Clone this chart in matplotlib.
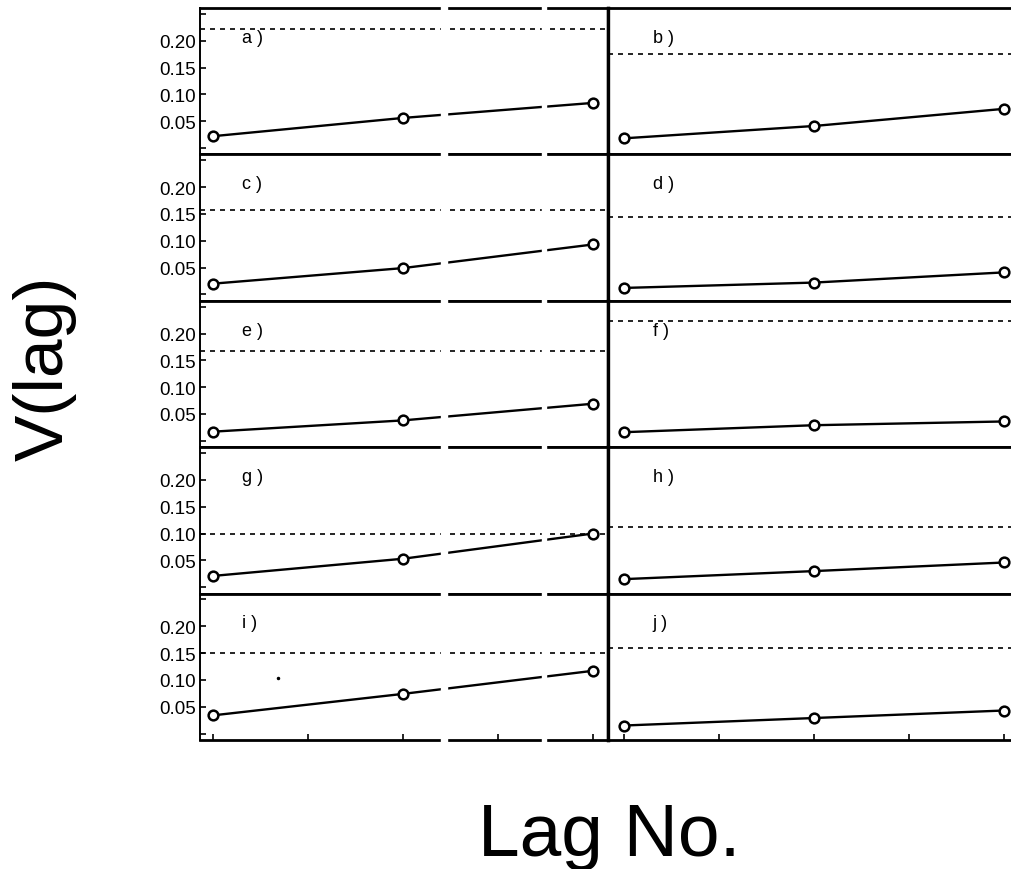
import matplotlib
matplotlib.use("Agg")
import matplotlib.pyplot as plt
from matplotlib.patches import Rectangle

plt.rcParams['font.family'] = ['Liberation Sans', 'DejaVu Sans']

# data (3 lags per panel)
lags = [1, 2, 3]
panel_names = ['a', 'b', 'c', 'd', 'e', 'f', 'g', 'h', 'i', 'j']
v_values = [
    [0.022, 0.056, 0.084],   # a
    [0.018, 0.041, 0.073],   # b
    [0.020, 0.049, 0.093],   # c
    [0.012, 0.022, 0.041],   # d
    [0.017, 0.038, 0.069],   # e
    [0.016, 0.029, 0.036],   # f
    [0.021, 0.053, 0.100],   # g
    [0.015, 0.030, 0.046],   # h
    [0.034, 0.074, 0.117],   # i
    [0.015, 0.029, 0.043],   # j
]
limit_values = [0.222, 0.176, 0.157, 0.144, 0.167, 0.223, 0.100, 0.113, 0.151, 0.159]
ytick_values = [0.0, 0.05, 0.10, 0.15, 0.20, 0.25]
ytick_labels = ['', '0.05', '0.10', '0.15', '0.20', '']
xtick_values = [1, 1.5, 2, 2.5, 3]
speck_i = (1.34, 0.104)  # stray dot in panel i

W, H = 1012, 870
fig = plt.figure(figsize=(W / 100, H / 100), dpi=100)

top_px, row_h = 9, 146.4
col_x = [200, 608]
col_xlim = [(0.93, 3.08), (0.915, 3.062)]
ax_w = 408

for k, name in enumerate(panel_names):
    row, col = divmod(k, 2)
    bottom = (H - (top_px + (row + 1) * row_h)) / H
    ax = fig.add_axes([col_x[col] / W, bottom, ax_w / W, row_h / H])
    ax.set_xlim(*col_xlim[col])
    ax.set_ylim(-0.012, 0.261)

    ax.axhline(limit_values[k], color='black', lw=1.2, linestyle=(0, (3, 3)))
    ax.plot(lags, v_values[k], color='black', lw=1.7, marker='o', ms=7,
            mfc='white', mec='black', mew=1.8, zorder=3)
    if name == 'i':
        ax.plot([speck_i[0]], [speck_i[1]], 'k.', ms=3)

    ax.text(1.15, 0.80, name + ' )', transform=ax.get_xaxis_transform(),
            fontsize=13, ha='left', va='center')

    for side in ['top', 'bottom']:
        ax.spines[side].set_linewidth(2.0)
    ax.spines['right'].set_visible(col == 0)
    ax.spines['right'].set_linewidth(2.4)
    ax.spines['left'].set_linewidth(1.4 if col == 0 else 2.4)

    if col == 0:
        ax.set_yticks(ytick_values)
        ax.set_yticklabels(ytick_labels)
        ax.tick_params(axis='y', direction='in', length=4, width=1.2,
                       labelsize=13.5, pad=3)
    else:
        ax.set_yticks([])
    if row == 4:
        ax.set_xticks(xtick_values)
        ax.tick_params(axis='x', direction='in', length=4, width=1.2,
                       labelbottom=False)
    else:
        ax.set_xticks([])

# scan gaps through the left column
for x0, x1 in [(441, 447), (542, 546)]:
    fig.add_artist(Rectangle((x0 / W, (H - 745) / H), (x1 - x0) / W, 738 / H,
                             transform=fig.transFigure, color='white', zorder=10))

fig.text(45 / W, 1 - 368 / H, 'V(lag)', rotation=90, fontsize=50,
         ha='center', va='center')
fig.text(609 / W, 1 - 856 / H, 'Lag No.', fontsize=54,
         ha='center', va='baseline')

fig.savefig('out.png', dpi=100)
